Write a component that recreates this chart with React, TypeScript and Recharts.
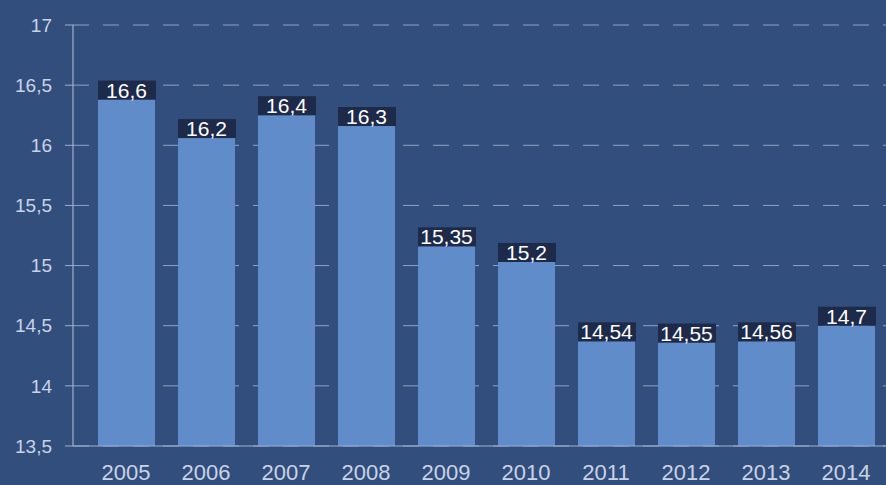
import { BarChart, Bar, XAxis, YAxis, CartesianGrid, LabelList } from 'recharts';

const years = ['2005', '2006', '2007', '2008', '2009', '2010', '2011', '2012', '2013', '2014'];
// bar heights as drawn in the picture
const heights = [16.38, 16.06, 16.25, 16.16, 15.16, 15.03, 14.37, 14.36, 14.37, 14.5];
// value labels printed over the bars
const labels = ['16,6', '16,2', '16,4', '16,3', '15,35', '15,2', '14,54', '14,55', '14,56', '14,7'];
const yTicks = [13.5, 14, 14.5, 15, 15.5, 16, 16.5, 17];

const data = years.map((year, i) => ({ year, value: heights[i], label: labels[i] }));

const font = '"Liberation Sans", Arial, sans-serif';

function ValueLabel(props: any) {
  const { x, y, width, value } = props;
  return (
    <g>
      <rect x={x} y={y - 19} width={width + 1} height={19} fill="#1e2a4a" />
      <text
        x={x + width / 2}
        y={y - 2}
        textAnchor="middle"
        fill="#ffffff"
        fontSize={21}
        fontFamily={font}
      >
        {value}
      </text>
    </g>
  );
}

export default function App() {
  return (
    <div style={{ position: 'fixed', left: 0, top: 0, width: 886, height: 485, background: '#324e7c' }}>
      <BarChart width={886} height={485} data={data} margin={{ top: 25, right: 0, bottom: 0, left: 0 }}>
        <CartesianGrid vertical={false} stroke="#8fa2c6" strokeDasharray="16 14" />
        <XAxis
          dataKey="year"
          height={39}
          padding={{ left: 13, right: 0 }}
          axisLine={{ stroke: '#9fb0d0' }}
          tickLine={false}
          tickMargin={12}
          tick={{ fill: '#c9d3e6', fontSize: 22, fontFamily: font }}
        />
        <YAxis
          width={73}
          domain={[13.5, 17]}
          ticks={yTicks}
          allowDataOverflow
          axisLine={{ stroke: '#b5c2dc' }}
          tickLine={{ stroke: '#9fb0d0' }}
          tickSize={8}
          tickMargin={13}
          tickFormatter={(v: number) => String(v).replace('.', ',')}
          tick={{ fill: '#c9d3e6', fontSize: 19, fontFamily: font }}
        />
        <Bar dataKey="value" fill="#618cca" barSize={57} isAnimationActive={false}>
          <LabelList dataKey="label" content={<ValueLabel />} />
        </Bar>
      </BarChart>
    </div>
  );
}
